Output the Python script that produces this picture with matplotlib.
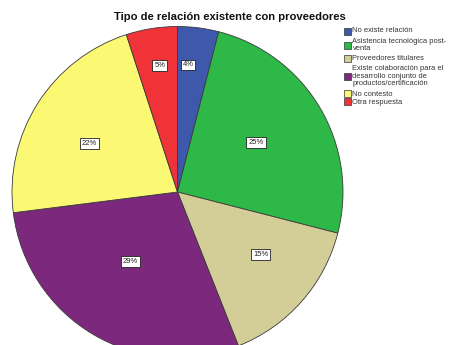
import numpy as np
import matplotlib
matplotlib.use("Agg")
import matplotlib.pyplot as plt
from matplotlib.patches import Rectangle

plt.rcParams['font.family'] = ['Liberation Sans', 'DejaVu Sans']

title = "Tipo de relación existente con proveedores"
categories = [
    "No existe relación",
    "Asistencia tecnológica post-\nventa",
    "Proveedores titulares",
    "Existe colaboración para el\ndesarrollo conjunto de\nproductos/certificación",
    "No contesto",
    "Otra respuesta",
]
percentages = [4, 25, 15, 29, 22, 5]
colors = ["#3E58AC", "#2EB848", "#D3CE97", "#7C287D", "#FBF873", "#EF3338"]
# placement of each percentage box: fraction of the radius and angular nudge (deg)
label_radius = [0.77, 0.56, 0.63, 0.51, 0.61, 0.77]
label_nudge = [2.5, 1.5, 4.5, -3.5, 3.5, -1.0]

W, H = 451, 345
fig = plt.figure(figsize=(W / 100, H / 100), dpi=100)

cx, cy, r = 177.5, 192.0, 165.5
ax = fig.add_axes([(cx - r) / W, (H - cy - r) / H, 2 * r / W, 2 * r / H])

wedges, _ = ax.pie(percentages, colors=colors, startangle=90, counterclock=False,
                   radius=1.0, frame=False,
                   wedgeprops=dict(edgecolor="#3a3a3a", linewidth=0.6))
ax.set_xlim(-1, 1)
ax.set_ylim(-1, 1)
ax.set_aspect('equal')
ax.axis('off')
for w in wedges:
    w.set_clip_on(False)

for w, p, lr, nd in zip(wedges, percentages, label_radius, label_nudge):
    ang = np.deg2rad((w.theta1 + w.theta2) / 2 + nd)
    ax.text(lr * np.cos(ang), lr * np.sin(ang), f"{p}%",
            ha='center', va='center', fontsize=5.5, color="#222222",
            bbox=dict(boxstyle="square,pad=0.25", fc="white", ec="#222222", lw=0.6))

fig.text(230 / W, 1 - 17 / H, title, ha='center', va='center',
         fontsize=8.1, fontweight='bold', color="#111111")

# legend
legend_y = [31, 45, 58, 76, 94, 102]
for lab, col, y in zip(categories, colors, legend_y):
    fig.patches.append(Rectangle(((344) / W, 1 - (y + 3.5) / H), 7 / W, 7 / H,
                                 transform=fig.transFigure, facecolor=col,
                                 edgecolor="#333333", linewidth=0.5))
    fig.text(352.5 / W, 1 - y / H, lab, ha='left', va='center', fontsize=5.4,
             color="#333333", linespacing=1.05)

fig.savefig("out.png", dpi=100)
